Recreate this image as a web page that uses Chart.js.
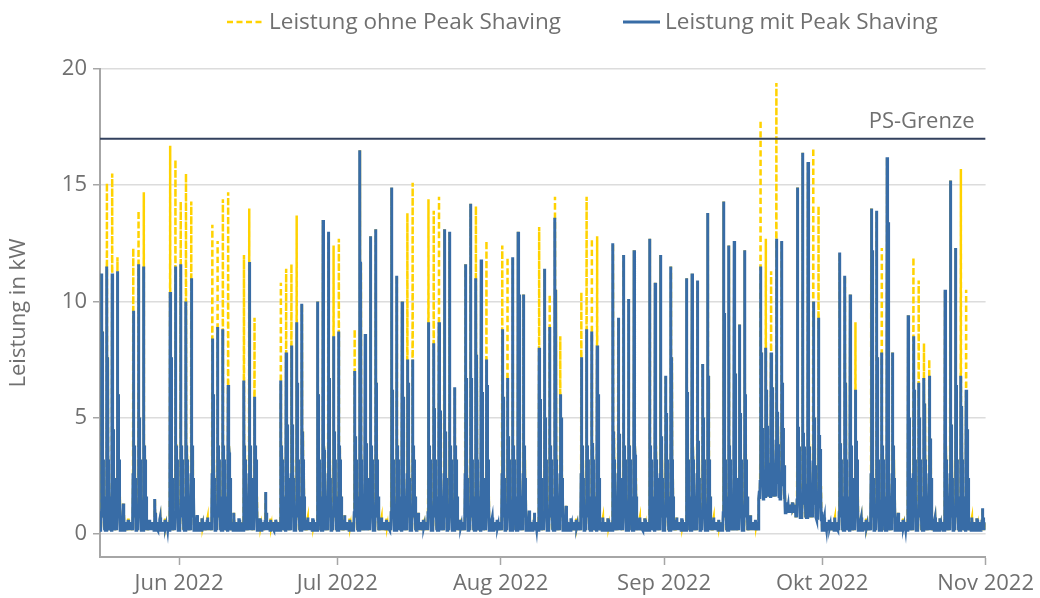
<!DOCTYPE html>
<html lang="de">
<head>
<meta charset="utf-8">
<title>Leistung mit und ohne Peak Shaving</title>
<script src="https://cdn.jsdelivr.net/npm/chart.js@4.4.1/dist/chart.umd.min.js"></script>
<style>
  html, body { margin: 0; padding: 0; background: #fff; }
  #chart { display: block; }
</style>
</head>
<body>
<canvas id="chart" width="1040" height="598"></canvas>
<script>
// Lastgang 17.05.2022 - 31.10.2022, x in Tagen (0 = 1. Juni 2022)
const FIRST_DAY = -15;
const LAST_DAY = 153;
const PS_LIMIT = 17;

const monthTicks = [0, 30, 61, 92, 122, 153];
const monthLabels = ['Jun 2022', 'Jul 2022', 'Aug 2022', 'Sep 2022', 'Okt 2022', 'Nov 2022'];
const yTicks = [0, 5, 10, 15, 20];

// Tagesspitze ohne Peak Shaving in kW (ab 17.05., je Zeile eine Woche bis So)
const peakOhne = [
  11.2, 15.1, 15.5, 11.9, 1.3, 0.6,
  12.3, 13.9, 14.7, 0.6, 1.5, 0.7, 0.6,
  16.7, 16.1, 14.3, 15.5, 14.3, 0.8, 0.6,
  0.7, 13.3, 12.6, 14.4, 14.7, 0.9, 0.6,
  12.0, 14.0, 9.3, 0.6, 1.8, 0.6, 0.5,
  10.8, 11.4, 11.6, 13.7, 9.9, 0.7, 0.6,
  10.0, 13.5, 13.0, 12.4, 12.7, 0.8, 0.6,
  8.8, 16.5, 8.6, 12.8, 13.1, 0.7, 0.6,
  14.9, 11.1, 10.0, 13.8, 15.1, 0.9, 0.6,
  14.4, 13.9, 14.5, 13.1, 13.0, 6.3, 0.6,
  11.6, 14.2, 14.1, 11.8, 12.6, 0.7, 0.6,
  12.4, 11.9, 11.9, 13.0, 10.3, 1.0, 0.9,
  13.2, 11.4, 10.3, 14.5, 8.5, 1.2, 0.6,
  0.6, 10.4, 14.5, 12.7, 12.8, 0.7, 0.6,
  12.5, 9.3, 12.0, 10.1, 12.2, 0.7, 0.6,
  12.7, 10.8, 12.0, 6.8, 11.5, 0.7, 0.6,
  11.0, 11.2, 10.9, 7.3, 13.8, 0.7, 0.6,
  14.3, 12.4, 12.6, 9.0, 12.2, 0.8, 0.6,
  17.8, 12.7, 11.3, 19.4, 12.6, 1.3, 1.2,
  14.9, 16.4, 16.0, 16.6, 14.1, 0.7, 0.6,
  0.7, 12.1, 11.1, 10.3, 9.1, 0.7, 0.6,
  14.0, 13.9, 12.3, 16.2, 7.8, 0.9, 0.6,
  9.4, 11.9, 10.9, 8.2, 7.5, 0.7, 0.6,
  10.5, 15.2, 12.3, 15.7, 10.5, 0.7, 0.6,
  1.1
];

// Tagesspitze mit Peak Shaving in kW
const peakMit = [
  11.2, 11.5, 11.2, 11.3, 1.3, 0.6,
  9.6, 11.6, 11.5, 0.6, 1.5, 0.7, 0.6,
  10.4, 11.5, 11.6, 10.0, 11.0, 0.8, 0.6,
  0.7, 8.4, 8.9, 8.8, 6.4, 0.9, 0.6,
  6.6, 11.7, 5.9, 0.6, 1.8, 0.6, 0.5,
  6.6, 7.8, 8.1, 9.1, 9.9, 0.7, 0.6,
  10.0, 13.5, 13.0, 8.5, 8.7, 0.8, 0.6,
  7.0, 16.5, 8.6, 12.8, 13.1, 0.7, 0.6,
  14.9, 11.1, 10.0, 7.5, 7.5, 0.9, 0.6,
  9.1, 8.2, 9.1, 13.1, 13.0, 6.3, 0.6,
  11.6, 14.2, 11.0, 11.8, 7.5, 0.7, 0.6,
  8.8, 6.7, 11.9, 13.0, 10.3, 1.0, 0.9,
  8.0, 11.4, 8.9, 13.6, 6.0, 1.2, 0.6,
  0.6, 7.6, 8.8, 8.7, 8.1, 0.7, 0.6,
  12.5, 9.3, 12.0, 10.1, 12.2, 0.7, 0.6,
  12.7, 10.8, 12.0, 6.8, 11.5, 0.7, 0.6,
  11.0, 11.2, 10.9, 7.3, 13.8, 0.7, 0.6,
  14.3, 12.4, 12.6, 9.0, 12.2, 0.8, 0.6,
  11.5, 8.0, 7.8, 12.7, 12.6, 1.3, 1.2,
  14.9, 16.4, 16.0, 10.0, 9.3, 0.7, 0.6,
  0.7, 12.1, 11.1, 10.3, 6.2, 0.7, 0.6,
  14.0, 13.9, 7.8, 16.2, 7.8, 0.9, 0.6,
  9.4, 8.5, 6.5, 6.7, 6.8, 0.7, 0.6,
  10.5, 15.2, 12.3, 6.8, 6.2, 0.7, 0.6,
  1.1
];

// zweite Lastspitze am Nachmittag in kW
const secondPeak = [
  8.7, 7.6, 4.5, 6.0, 0.8, 0.5,
  3.0, 5.0, 3.5, 0.5, 0.9, 0.5, 0.4,
  7.6, 3.8, 3.5, 3.5, 3.2, 0.5, 0.4,
  0.5, 6.0, 3.0, 2.2, 3.5, 0.5, 0.4,
  3.0, 3.3, 2.0, 0.4, 0.9, 0.4, 0.4,
  3.5, 4.7, 4.7, 6.5, 4.4, 0.5, 0.4,
  6.0, 3.6, 6.7, 4.4, 3.7, 0.5, 0.4,
  4.2, 11.7, 3.9, 3.1, 6.5, 0.5, 0.4,
  6.2, 3.7, 5.9, 6.5, 3.7, 0.5, 0.4,
  2.5, 5.4, 5.3, 4.4, 2.7, 1.5, 0.4,
  6.7, 6.7, 7.7, 6.1, 6.4, 0.5, 0.4,
  5.9, 4.2, 2.2, 10.3, 2.0, 0.6, 0.5,
  5.8, 5.0, 2.6, 10.5, 5.0, 0.7, 0.4,
  0.4, 3.4, 3.0, 3.9, 6.0, 0.5, 0.4,
  4.4, 4.3, 2.9, 3.7, 3.4, 0.5, 0.4,
  2.9, 2.2, 4.2, 5.2, 7.6, 0.5, 0.4,
  6.1, 3.0, 4.0, 5.0, 6.8, 0.5, 0.4,
  9.5, 3.0, 6.9, 5.2, 6.0, 0.5, 0.4,
  7.8, 6.2, 6.3, 5.0, 6.5, 1.2, 1.1,
  4.6, 3.0, 3.7, 5.0, 3.7, 0.5, 0.4,
  0.5, 3.9, 6.5, 3.7, 4.0, 0.5, 0.4,
  12.2, 7.6, 3.5, 13.4, 2.8, 0.5, 0.4,
  5.0, 6.2, 5.0, 5.6, 4.1, 0.5, 0.4,
  2.2, 4.7, 6.4, 5.5, 4.5, 0.5, 0.4,
  0.7
];

// Grundlast (Nacht) in kW, erhoeht vom 19.09. bis 30.09.
const BASE_LOAD = 0.15;
const raisedBaseFrom = 125;
const raisedBase = [1.5, 1.6, 1.6, 1.6, 1.5, 0.9, 0.9, 0.7, 0.7, 0.7, 0.7, 0.6];

// typischer Tagesverlauf (Stunde -> kW ueber Grundlast-Niveau)
const workdayHours = [0, 2, 4, 5.5, 6.5, 7.5, 8, 8.7, 9.3, 10, 10.7, 11.3, 12, 12.7, 13.3, 14, 14.7, 15.3, 16, 17, 18.5, 20, 22];
const workdayLevels = ['base', 0.5, 'base', 0.9, 2.6, 'peak', 1.4, 3.6, 1.0, 3.0, 1.3, 3.8, 'second', 1.6, 2.9, 0.9, 3.2, 1.1, 2.4, 0.7, 1.6, 'base', 0.5];
const restdayHours = [0, 3, 6, 8, 10, 11, 13, 15, 17, 20, 22];
const restdayLevels = ['base', 0.5, 'base', 0.6, 'peak', 0.3, 'second', 'base', 0.5, 0.2, 0.45];

const YELLOW = '#ffd200';
const BLUE = '#386ca6';
const NAVY = '#33415e';
const TEXT = '#707070';
const FONT = '"Open Sans", "Noto Sans", sans-serif';

function baseLoad(i) {
  const k = i - raisedBaseFrom;
  return k >= 0 && k < raisedBase.length ? raisedBase[k] : BASE_LOAD;
}

function buildSeries(peaks) {
  const points = [];
  peaks.forEach((peak, i) => {
    const day = FIRST_DAY + i;
    const base = baseLoad(i);
    const workday = peakMit[i] >= 3;
    const hours = workday ? workdayHours : restdayHours;
    const levels = workday ? workdayLevels : restdayLevels;
    hours.forEach((h, k) => {
      let v = levels[k];
      if (v === 'peak') v = peak;
      else if (v === 'second') v = Math.max(secondPeak[i], base);
      else if (v === 'base') v = base;
      else v = v + base - BASE_LOAD;
      points.push({ x: day + h / 24, y: v });
    });
  });
  points.push({ x: LAST_DAY, y: BASE_LOAD });
  return points;
}

// Legende oben
const legendItems = [
  { text: 'Leistung ohne Peak Shaving', color: YELLOW, dash: [6, 3.5], width: 2.5, x: 227 },
  { text: 'Leistung mit Peak Shaving', color: BLUE, dash: [], width: 3, x: 623 }
];

const legendPlugin = {
  id: 'topLegend',
  afterDraw(chart) {
    const ctx = chart.ctx;
    ctx.save();
    ctx.font = '22.5px ' + FONT;
    ctx.textBaseline = 'alphabetic';
    legendItems.forEach(item => {
      ctx.strokeStyle = item.color;
      ctx.lineWidth = item.width;
      ctx.setLineDash(item.dash);
      ctx.beginPath();
      ctx.moveTo(item.x, 22);
      ctx.lineTo(item.x + 37, 22);
      ctx.stroke();
      ctx.setLineDash([]);
      ctx.fillStyle = TEXT;
      ctx.fillText(item.text, item.x + 42, 29);
    });
    ctx.restore();
  }
};

// Beschriftung der Grenzlinie
const limitLabelPlugin = {
  id: 'limitLabel',
  afterDatasetsDraw(chart) {
    const { ctx, chartArea, scales } = chart;
    const y = scales.y.getPixelForValue(PS_LIMIT);
    ctx.save();
    ctx.font = '22px ' + FONT;
    ctx.fillStyle = TEXT;
    ctx.textAlign = 'right';
    ctx.textBaseline = 'alphabetic';
    ctx.fillText('PS-Grenze', chartArea.right - 11, y - 11);
    ctx.restore();
  }
};

new Chart(document.getElementById('chart'), {
  type: 'line',
  data: {
    datasets: [
      {
        label: 'Leistung ohne Peak Shaving',
        data: buildSeries(peakOhne),
        borderColor: YELLOW,
        borderWidth: 2.5,
        borderDash: [6, 3.5],
        pointRadius: 0,
        order: 2
      },
      {
        label: 'Leistung mit Peak Shaving',
        data: buildSeries(peakMit),
        borderColor: BLUE,
        borderWidth: 3,
        pointRadius: 0,
        order: 1
      },
      {
        label: 'PS-Grenze',
        data: [{ x: FIRST_DAY, y: PS_LIMIT }, { x: LAST_DAY, y: PS_LIMIT }],
        borderColor: NAVY,
        borderWidth: 2,
        pointRadius: 0,
        order: 0
      }
    ]
  },
  options: {
    responsive: false,
    animation: false,
    parsing: false,
    normalized: true,
    devicePixelRatio: 1,
    layout: { padding: { top: 69, right: 53, bottom: 0, left: 0 } },
    elements: { line: { tension: 0, borderJoinStyle: 'miter' } },
    plugins: {
      legend: { display: false },
      tooltip: { enabled: false }
    },
    scales: {
      x: {
        type: 'linear',
        min: FIRST_DAY,
        max: LAST_DAY,
        afterBuildTicks(axis) {
          axis.ticks = monthTicks.map(v => ({ value: v }));
        },
        afterFit(axis) {
          axis.height = 41;
        },
        ticks: {
          callback: (value, index) => monthLabels[index],
          color: TEXT,
          font: { family: FONT, size: 22 },
          padding: 6,
          maxRotation: 0,
          autoSkip: false
        },
        grid: {
          drawOnChartArea: false,
          tickLength: 8,
          tickColor: '#a6a6a6',
          tickWidth: 1.5
        },
        border: { color: '#a6a6a6', width: 2 }
      },
      y: {
        min: -1,
        max: 20,
        afterBuildTicks(axis) {
          axis.ticks = yTicks.map(v => ({ value: v }));
        },
        afterFit(axis) {
          axis.width = 100;
        },
        ticks: {
          color: TEXT,
          font: { family: FONT, size: 22 },
          padding: 6
        },
        grid: {
          color: '#dcdcdc',
          lineWidth: 1.5,
          tickLength: 7,
          tickColor: '#a6a6a6'
        },
        border: { color: '#a6a6a6', width: 2 },
        title: {
          display: true,
          text: 'Leistung in kW',
          color: TEXT,
          font: { family: FONT, size: 22 },
          padding: { top: 6, bottom: 0 }
        }
      }
    }
  },
  plugins: [legendPlugin, limitLabelPlugin]
});
</script>
</body>
</html>
